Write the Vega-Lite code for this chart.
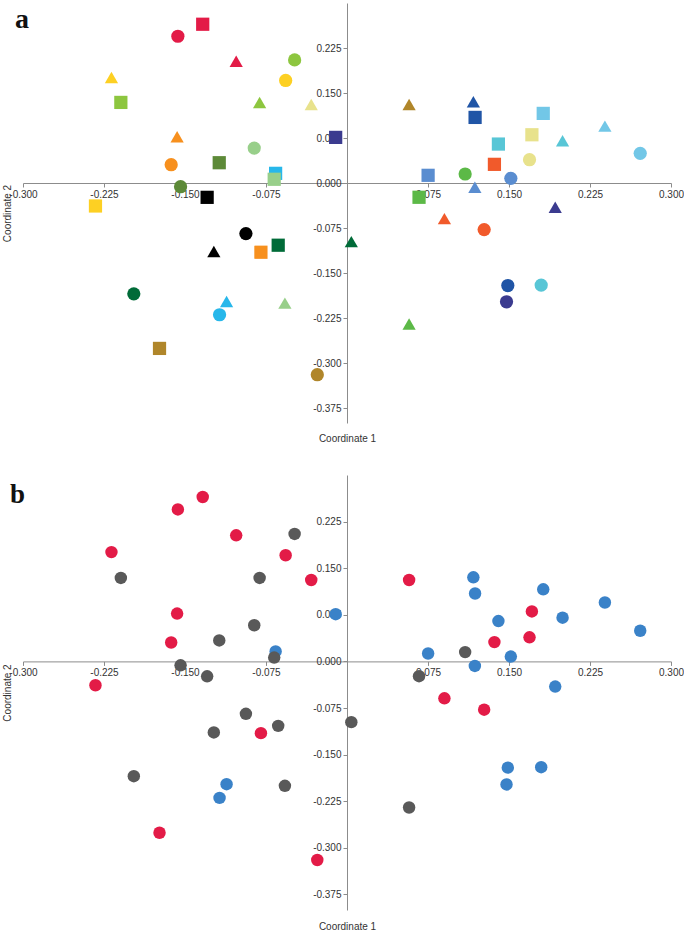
{
  "$schema": "https://vega.github.io/schema/vega-lite/v6.json",
  "padding": {"left": 2, "top": 3, "right": 0, "bottom": 0},
  "background": "white",
  "config": {
    "view": {"stroke": null},
    "axis": {
      "grid": false,
      "domainColor": "#8c8c8c",
      "tickColor": "#8c8c8c",
      "tickSize": 4,
      "labelFont": "Liberation Sans",
      "labelFontSize": 10,
      "labelColor": "#333333",
      "titleFont": "Liberation Sans",
      "titleFontSize": 10,
      "titleFontWeight": "normal",
      "titleColor": "#333333",
      "labelPadding": 2,
      "labelFlush": false,
      "labelOverlap": false,
      "zindex": 1
    }
  },
  "datasets": {
    "pts": [
      {"x": -0.1336, "y": 0.2646, "shape": "square", "pop": "crimson", "group": "red"},
      {"x": -0.1566, "y": 0.2446, "shape": "circle", "pop": "crimson", "group": "red"},
      {"x": -0.1026, "y": 0.2030, "shape": "triangle", "pop": "crimson", "group": "red"},
      {"x": -0.0485, "y": 0.2052, "shape": "circle", "pop": "yellowgreen", "group": "grey"},
      {"x": -0.0568, "y": 0.1709, "shape": "circle", "pop": "yellow", "group": "red"},
      {"x": -0.2181, "y": 0.1759, "shape": "triangle", "pop": "yellow", "group": "red"},
      {"x": -0.2094, "y": 0.1343, "shape": "square", "pop": "yellowgreen", "group": "grey"},
      {"x": -0.0809, "y": 0.1343, "shape": "triangle", "pop": "yellowgreen", "group": "grey"},
      {"x": -0.0331, "y": 0.1310, "shape": "triangle", "pop": "khaki", "group": "red"},
      {"x": -0.0105, "y": 0.0760, "shape": "square", "pop": "indigo", "group": "blue"},
      {"x": -0.1573, "y": 0.0770, "shape": "triangle", "pop": "orange", "group": "red"},
      {"x": -0.0859, "y": 0.0582, "shape": "circle", "pop": "lightgreen", "group": "grey"},
      {"x": -0.1628, "y": 0.0305, "shape": "circle", "pop": "orange", "group": "red"},
      {"x": -0.1183, "y": 0.0338, "shape": "square", "pop": "olive", "group": "grey"},
      {"x": -0.0661, "y": 0.0161, "shape": "square", "pop": "skyblue", "group": "blue"},
      {"x": -0.0674, "y": 0.0062, "shape": "square", "pop": "lightgreen", "group": "grey"},
      {"x": -0.1541, "y": -0.0062, "shape": "circle", "pop": "olive", "group": "grey"},
      {"x": -0.1295, "y": -0.0239, "shape": "square", "pop": "black", "group": "grey"},
      {"x": -0.2329, "y": -0.0383, "shape": "square", "pop": "yellow", "group": "red"},
      {"x": -0.0936, "y": -0.0843, "shape": "circle", "pop": "black", "group": "grey"},
      {"x": -0.0637, "y": -0.1037, "shape": "square", "pop": "darkgreen", "group": "grey"},
      {"x": -0.1233, "y": -0.1143, "shape": "triangle", "pop": "black", "group": "grey"},
      {"x": -0.0797, "y": -0.1154, "shape": "square", "pop": "orange", "group": "red"},
      {"x": -0.1974, "y": -0.1847, "shape": "circle", "pop": "darkgreen", "group": "grey"},
      {"x": -0.1115, "y": -0.1975, "shape": "triangle", "pop": "skyblue", "group": "blue"},
      {"x": -0.0575, "y": -0.2002, "shape": "triangle", "pop": "lightgreen", "group": "grey"},
      {"x": -0.1180, "y": -0.2196, "shape": "circle", "pop": "skyblue", "group": "blue"},
      {"x": -0.1736, "y": -0.2757, "shape": "square", "pop": "goldbrown", "group": "red"},
      {"x": -0.0275, "y": -0.3195, "shape": "circle", "pop": "goldbrown", "group": "red"},
      {"x": 0.0040, "y": -0.0977, "shape": "triangle", "pop": "darkgreen", "group": "grey"},
      {"x": 0.0575, "y": 0.1310, "shape": "triangle", "pop": "goldbrown", "group": "red"},
      {"x": 0.1170, "y": 0.1353, "shape": "triangle", "pop": "blue", "group": "blue"},
      {"x": 0.1186, "y": 0.1093, "shape": "square", "pop": "blue", "group": "blue"},
      {"x": 0.1817, "y": 0.1160, "shape": "square", "pop": "lightsky", "group": "blue"},
      {"x": 0.1712, "y": 0.0804, "shape": "square", "pop": "khaki", "group": "red"},
      {"x": 0.1402, "y": 0.0649, "shape": "square", "pop": "cyan", "group": "blue"},
      {"x": 0.1996, "y": 0.0704, "shape": "triangle", "pop": "cyan", "group": "blue"},
      {"x": 0.2388, "y": 0.0948, "shape": "triangle", "pop": "lightsky", "group": "blue"},
      {"x": 0.2715, "y": 0.0494, "shape": "circle", "pop": "lightsky", "group": "blue"},
      {"x": 0.1690, "y": 0.0388, "shape": "circle", "pop": "khaki", "group": "red"},
      {"x": 0.1365, "y": 0.0311, "shape": "square", "pop": "orangered", "group": "red"},
      {"x": 0.0751, "y": 0.0128, "shape": "square", "pop": "cornflower", "group": "blue"},
      {"x": 0.1094, "y": 0.0150, "shape": "circle", "pop": "green", "group": "grey"},
      {"x": 0.1517, "y": 0.0078, "shape": "circle", "pop": "cornflower", "group": "blue"},
      {"x": 0.1184, "y": -0.0072, "shape": "triangle", "pop": "cornflower", "group": "blue"},
      {"x": 0.0667, "y": -0.0238, "shape": "square", "pop": "green", "group": "grey"},
      {"x": 0.1928, "y": -0.0404, "shape": "triangle", "pop": "indigo", "group": "blue"},
      {"x": 0.0902, "y": -0.0594, "shape": "triangle", "pop": "orangered", "group": "red"},
      {"x": 0.1270, "y": -0.0777, "shape": "circle", "pop": "orangered", "group": "red"},
      {"x": 0.1489, "y": -0.1709, "shape": "circle", "pop": "blue", "group": "blue"},
      {"x": 0.1798, "y": -0.1702, "shape": "circle", "pop": "cyan", "group": "blue"},
      {"x": 0.1477, "y": -0.1980, "shape": "circle", "pop": "indigo", "group": "blue"},
      {"x": 0.0575, "y": -0.2351, "shape": "triangle", "pop": "green", "group": "grey"}
    ],
    "labA": [{"t": "a"}],
    "labB": [{"t": "b"}]
  },
  "spacing": 52,
  "bounds": "flush",
  "resolve": {"scale": {"color": "independent", "shape": "independent", "x": "independent", "y": "independent"}},
  "vconcat": [
    {
      "width": 648,
      "height": 420,
      "layer": [
        {
          "data": {"name": "pts"},
          "mark": {"type": "point", "filled": true, "opacity": 1, "size": 175},
          "encoding": {
            "x": {
              "field": "x", "type": "quantitative",
              "scale": {"domain": [-0.3, 0.3], "nice": false, "zero": false},
              "axis": {
                "title": "Coordinate 1", "offset": -240, "titleY": 250, "titleBaseline": "top",
                "values": [-0.3, -0.225, -0.15, -0.075, 0.075, 0.15, 0.225, 0.3],
                "labelExpr": "replace(format(datum.value, '.3f'), '−', '-')"
              }
            },
            "y": {
              "field": "y", "type": "quantitative",
              "scale": {"domain": [-0.4, 0.3], "nice": false, "zero": false},
              "axis": {
                "title": "Coordinate 2", "offset": -324, "titleX": -335, "titleBaseline": "bottom",
                "values": [-0.375, -0.3, -0.225, -0.15, -0.075, 0, 0.075, 0.15, 0.225],
                "labelExpr": "replace(format(datum.value, '.3f'), '−', '-')"
              }
            },
            "shape": {
              "field": "shape", "type": "nominal",
              "scale": {"domain": ["circle", "square", "triangle"], "range": ["circle", "square", "triangle-up"]},
              "legend": null
            },
            "color": {
              "field": "pop", "type": "nominal",
              "scale": {
                "domain": ["crimson", "yellow", "yellowgreen", "khaki", "indigo", "orange", "lightgreen", "olive", "skyblue", "black", "darkgreen", "goldbrown", "blue", "lightsky", "cyan", "orangered", "cornflower", "green"],
                "range": ["#e31b47", "#fdd023", "#8dc63f", "#e8e28c", "#3b3b8f", "#f7901e", "#98cf8a", "#5d8a38", "#27b7ea", "#000000", "#006b38", "#b0862a", "#2055a6", "#72c7e7", "#58c6d6", "#f15a2b", "#5a8dd0", "#5cb947"]
              },
              "legend": null
            }
          }
        },
        {
          "data": {"name": "labA"},
          "mark": {"type": "text", "font": "Liberation Serif", "fontWeight": "bold", "fontSize": 28, "align": "left", "baseline": "alphabetic", "color": "#111111"},
          "encoding": {
            "text": {"field": "t", "type": "nominal"},
            "x": {"datum": -0.3074, "type": "quantitative"},
            "y": {"datum": 0.2583, "type": "quantitative"}
          }
        }
      ]
    },
    {
      "width": 648,
      "height": 435,
      "layer": [
        {
          "data": {"name": "pts"},
          "mark": {"type": "circle", "opacity": 1, "size": 155},
          "encoding": {
            "x": {
              "field": "x", "type": "quantitative",
              "scale": {"domain": [-0.3, 0.3], "nice": false, "zero": false},
              "axis": {
                "title": "Coordinate 1", "offset": -248.6, "titleY": 260, "titleBaseline": "top",
                "values": [-0.3, -0.225, -0.15, -0.075, 0.075, 0.15, 0.225, 0.3],
                "labelExpr": "replace(format(datum.value, '.3f'), '−', '-')"
              }
            },
            "y": {
              "field": "y", "type": "quantitative",
              "scale": {"domain": [-0.4, 0.3], "nice": false, "zero": false},
              "axis": {
                "title": "Coordinate 2", "offset": -324, "titleX": -335, "titleBaseline": "bottom",
                "values": [-0.375, -0.3, -0.225, -0.15, -0.075, 0, 0.075, 0.15, 0.225],
                "labelExpr": "replace(format(datum.value, '.3f'), '−', '-')"
              }
            },
            "color": {
              "field": "group", "type": "nominal",
              "scale": {"domain": ["red", "grey", "blue"], "range": ["#e31b47", "#595959", "#3a82c8"]},
              "legend": null
            }
          }
        },
        {
          "data": {"name": "labB"},
          "mark": {"type": "text", "font": "Liberation Serif", "fontWeight": "bold", "fontSize": 27, "align": "left", "baseline": "alphabetic", "color": "#111111"},
          "encoding": {
            "text": {"field": "t", "type": "nominal"},
            "x": {"datum": -0.312, "type": "quantitative"},
            "y": {"datum": 0.2549, "type": "quantitative"}
          }
        }
      ]
    }
  ]
}
